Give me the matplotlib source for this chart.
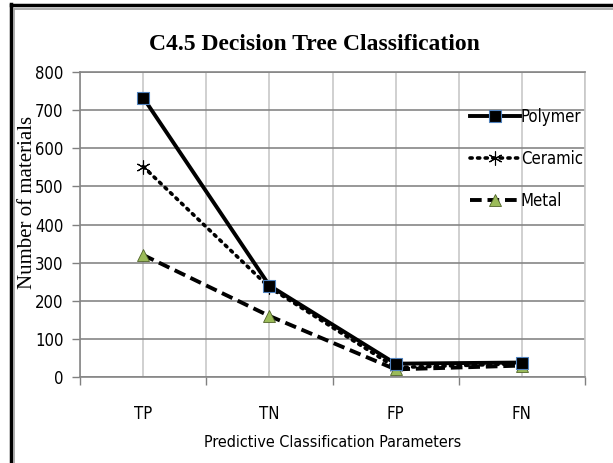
import matplotlib
matplotlib.use("Agg")
import matplotlib.pyplot as plt
from matplotlib.lines import Line2D
from matplotlib.font_manager import FontProperties
import numpy as np

categories = ["TP", "TN", "FP", "FN"]
polymer = [733, 240, 35, 38]
ceramic = [552, 235, 25, 35]
metal = [320, 160, 20, 30]
series_names = ["Polymer", "Ceramic", "Metal"]
y_ticks = [0, 100, 200, 300, 400, 500, 600, 700, 800]

W, H = 613, 463
fig = plt.figure(figsize=(W / 100, H / 100), dpi=100)
fig.patch.set_facecolor("white")

ax = fig.add_axes([80 / W, 1 - 377 / H, (585 - 80) / W, (377 - 72) / H])
x = np.arange(len(categories))

narrow = FontProperties(family=["DejaVu Sans"], stretch="condensed", size=12)
narrow_lab = FontProperties(family=["DejaVu Sans"], stretch="condensed", size=11.5)
serif = ["Liberation Serif", "DejaVu Serif"]

ax.plot(x, polymer, color="black", lw=2.8, ls="-", marker="s", ms=8,
        mfc="black", mec="#4f81bd", mew=0.8, label=series_names[0], zorder=5)
ax.plot(x, ceramic, color="black", lw=2.6, ls=(0, (0.6, 1.5)), dash_capstyle="round",
        marker=(6, 2, 0), ms=10, mec="black", mew=0.8, label=series_names[1], zorder=4)
ax.plot(x, metal, color="black", lw=2.8, ls=(0, (3, 1.5)),
        marker="^", ms=9, mfc="#9bbb59", mec="#4f6228", mew=0.6, label=series_names[2], zorder=4)

ax.set_xlim(-0.5, 3.5)
ax.set_ylim(0, 800)
ax.set_yticks(y_ticks)
ax.set_yticklabels([str(v) for v in y_ticks], fontproperties=narrow)
ax.set_xticks(x)
ax.set_xticklabels(categories, fontproperties=narrow)
ax.set_xticks(np.arange(-0.5, 3.6, 1.0), minor=True)

ax.tick_params(axis="x", which="major", length=0, pad=20)
ax.tick_params(axis="x", which="minor", length=6, color="#808080", width=1)
ax.tick_params(axis="y", length=6, color="#808080", width=1, pad=6)

ax.grid(axis="y", color="#868686", lw=1.2)
ax.grid(axis="x", which="both", color="#c8c8c8", lw=1.2)
ax.set_axisbelow(True)
for s in ["left", "bottom", "top"]:
    ax.spines[s].set_color("#868686")
    ax.spines[s].set_linewidth(1.2)
ax.spines["right"].set_color("#c8c8c8")
ax.spines["right"].set_linewidth(1.2)

ax.set_xlabel("Predictive Classification Parameters", fontproperties=narrow_lab, labelpad=9)

fig.text(314 / W, 1 - 44 / H, "C4.5 Decision Tree Classification", family=serif,
         fontweight="bold", fontsize=17, ha="center", va="center")
fig.text(28 / W, 1 - 202 / H, "Number of materials", family=serif, fontsize=15,
         rotation=90, ha="center", va="center")

leg = ax.legend(loc="upper left", bbox_to_anchor=(470 / W, 1 - 108 / H),
                bbox_transform=fig.transFigure, frameon=False,
                prop=narrow, handlelength=3.0,
                handletextpad=0.05, labelspacing=1.45, borderpad=0, borderaxespad=0)

# outer frame
fig.add_artist(Line2D([11 / W, 11 / W], [0, 1 - 4 / H], transform=fig.transFigure,
                      color="black", lw=2.5))
fig.add_artist(Line2D([11 / W, 1], [1 - 5 / H, 1 - 5 / H], transform=fig.transFigure,
                      color="black", lw=2.5))
fig.add_artist(Line2D([14 / W, 14 / W], [0, 1 - 9 / H], transform=fig.transFigure,
                      color="#a0a0a0", lw=1.2))
fig.add_artist(Line2D([14 / W, 1], [1 - 9 / H, 1 - 9 / H], transform=fig.transFigure,
                      color="#a0a0a0", lw=1.2))

fig.savefig("out.png", dpi=100)
